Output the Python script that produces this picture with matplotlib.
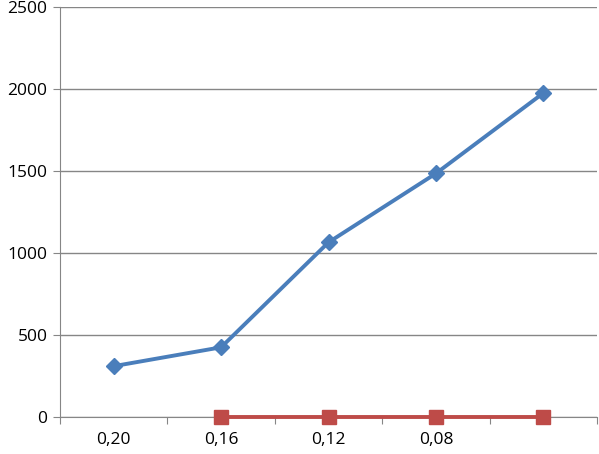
import matplotlib
matplotlib.use("Agg")
import matplotlib.pyplot as plt
import numpy as np

categories = ["0,20", "0,16", "0,12", "0,08", ""]
blue_values = [310, 425, 1065, 1485, 1975]
red_values = [None, 0, 0, 0, 0]

BLUE = "#4a7ebb"
RED = "#be4b48"
GRID = "#868686"

plt.rcParams["font.family"] = ["Open Sans", "DejaVu Sans"]

fig = plt.figure(figsize=(5.99, 4.54), dpi=100)
ax = fig.add_axes([60 / 599, 37 / 454, 537 / 599, 410 / 454])

x = np.arange(len(categories))
ax.plot(x, blue_values, color=BLUE, lw=2.8, marker="D", markersize=8,
        markerfacecolor=BLUE, markeredgecolor=BLUE, zorder=3)
red_x = [i for i, v in enumerate(red_values) if v is not None]
red_y = [v for v in red_values if v is not None]
ax.plot(red_x, red_y, color=RED, lw=2.8, marker="s", markersize=10,
        markerfacecolor=RED, markeredgecolor=RED, zorder=4, clip_on=False)

ax.set_xlim(-0.5, len(categories) - 0.5)
ax.set_ylim(0, 2500)
ax.set_yticks(np.arange(0, 2501, 500))
ax.yaxis.grid(True, color=GRID, lw=1)
ax.set_axisbelow(True)

ax.set_xticks(np.arange(-0.5, len(categories)), minor=False)
ax.set_xticklabels([])
ax.set_xticks(x, minor=True)
ax.set_xticklabels(categories, minor=True)
ax.tick_params(axis="x", which="major", length=5, color=GRID, direction="out")
ax.tick_params(axis="x", which="minor", length=0, pad=11, labelsize=12.5)
ax.tick_params(axis="y", length=5, color=GRID, direction="out", pad=4, labelsize=12.5)

for side in ["top", "right"]:
    ax.spines[side].set_visible(False)
for side in ["left", "bottom"]:
    ax.spines[side].set_color(GRID)

fig.savefig("out.png", dpi=100)
